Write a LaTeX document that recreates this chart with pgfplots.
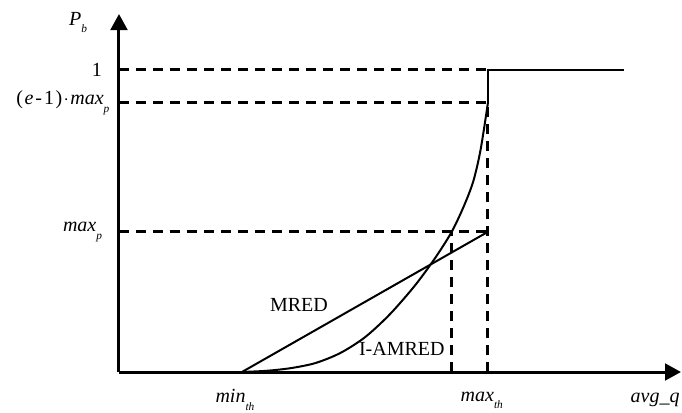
\documentclass[border=0pt]{standalone}
\usepackage{pgfplots}
\pgfplotsset{compat=1.18}
\usepackage{fontspec}
\setmainfont{Liberation Serif}
\usetikzlibrary{arrows.meta}

% italic subscript, set small and low as in the drop-probability sketch
\newcommand\sub[1]{\raisebox{-0.8ex}{\fontsize{8.5}{9}\selectfont\itshape #1}}

% thresholds and probabilities of the drop function
\pgfplotstableread{
x      y
1.000  0.000
3.000  0.464
}\mred
\pgfplotstableread{
x      y
1.000  0.000
1.200  0.004
1.400  0.013
1.600  0.030
1.800  0.063
2.000  0.115
2.200  0.190
2.400  0.283
2.560  0.371
2.700  0.460
2.800  0.545
2.880  0.630
2.940  0.735
3.000  0.891
}\iamred
\pgfplotstableread{
x      y
3.000  0.891
3.000  1.000
4.110  1.000
}\sat

\begin{document}
\begin{tikzpicture}[every node/.style={font=\fontsize{15}{17}\selectfont}]
\useasboundingbox (0,0) rectangle (511.5pt,309pt);
\begin{axis}[
  at={(89.25pt,30pt)}, anchor=south west,
  scale only axis, width=421.5pt, height=268.5pt,
  xmin=0, xmax=4.57, ymin=0, ymax=1.185,
  axis lines=left,
  axis line style={line width=2.25pt, -{Triangle[length=12pt,width=12.5pt]}},
  xtick=\empty, ytick=\empty,
  clip=false,
]
% guide lines
\addplot[black, line width=2.25pt, dash pattern=on 7.5pt off 5.25pt]
  coordinates {(0,1) (3,1)};
\addplot[black, line width=2.25pt, dash pattern=on 7.5pt off 5.25pt]
  coordinates {(0,0.891) (3,0.891)};
\addplot[black, line width=2.25pt, dash pattern=on 7.5pt off 5.25pt]
  coordinates {(0,0.464) (3,0.464)};
\addplot[black, line width=2.25pt, dash pattern=on 7.5pt off 5.25pt]
  coordinates {(3,0) (3,0.891)};
\addplot[black, line width=2.25pt, dash pattern=on 7.5pt off 5.25pt]
  coordinates {(2.707,0) (2.707,0.464)};
% drop-probability curves
\addplot[black, line width=1.5pt] table[x=x,y=y] {\mred};
\addplot[black, line width=1.5pt, smooth, tension=0.5] table[x=x,y=y] {\iamred};
\addplot[black, line width=1.5pt] table[x=x,y=y] {\sat};
% labels
\node at (axis cs:-0.333,1.156) {\textit{P}\sub{b}};
\node[anchor=east] at (axis cs:-0.10,1) {1};
\node[anchor=east] at (axis cs:-0.04,0.891)
  {(\kern1.2pt\textit{e}\kern1.5pt-\kern1.5pt1\kern1.2pt)\kern1pt$\cdot$\kern1pt\textit{max}\sub{p}};
\node[anchor=east] at (axis cs:-0.10,0.464) {\textit{max}\sub{p}};
\node at (axis cs:0.943,-0.093) {\textit{min}\sub{th}};
\node at (axis cs:2.95,-0.093) {\textit{max}\sub{th}};
\node at (axis cs:4.36,-0.093) {\textit{avg\_q}};
\node at (axis cs:1.463,0.222) {MRED};
\node at (axis cs:2.30,0.076) {I-AMRED};
\end{axis}
\end{tikzpicture}
\end{document}
